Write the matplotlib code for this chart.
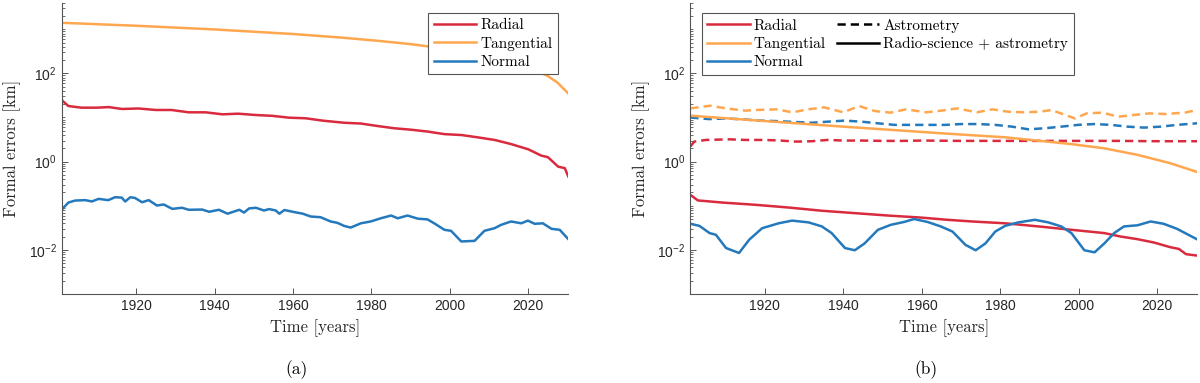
import numpy as np
import matplotlib
matplotlib.use("Agg")
import matplotlib.pyplot as plt
from matplotlib.ticker import FixedLocator, LogLocator, NullFormatter
from matplotlib.lines import Line2D

plt.rcParams['font.family'] = 'Liberation Sans'
plt.rcParams['mathtext.fontset'] = 'custom'
plt.rcParams['mathtext.rm'] = 'Liberation Sans'
plt.rcParams['mathtext.it'] = 'Liberation Sans:italic'

# colours of the three components
RED = '#D92B3D'
ORANGE = '#FFA74F'
BLUE = '#2479BD'
SERIF = 'cmr10'

# ---------------- panel (a) ----------------
yrs_a_rad = [1901, 1902.7, 1906, 1910, 1913, 1916.4, 1920.6, 1925, 1929, 1933.4, 1937.7, 1942,
             1946, 1950.4, 1954.7, 1959, 1963.2, 1967.5, 1973, 1977.3, 1981.6, 1985.8, 1990,
             1994.3, 1998.6, 2003, 2007, 2011.4, 2015.6, 2020, 2023.3, 2025, 2027.6, 2029.3, 2030.2]
val_a_rad = [24.9, 18.2, 16.7, 16.7, 17.2, 15.6, 16.0, 14.8, 14.8, 13.1, 13.1, 11.8,
             12.2, 11.4, 10.9, 9.9, 9.6, 8.5, 7.6, 7.3, 6.4, 5.7, 5.3,
             4.8, 4.2, 4.0, 3.56, 3.1, 2.5, 1.9, 1.37, 1.26, 0.77, 0.71, 0.46]

yrs_a_tan = [1901, 1920, 1940, 1960, 1973, 1981.6, 1990, 1995.2, 2000, 2005, 2010, 2015, 2020,
             2025, 2027.5, 2030.2]
val_a_tan = [1400, 1200, 990, 780, 640, 547, 460, 400, 347, 295, 245, 190, 138,
             87, 61, 35]

yrs_a_nor = [1901, 1902.7, 1904.4, 1907, 1908.7, 1910.4, 1912.9, 1914.6, 1916.3, 1917.2,
             1918.5, 1919.7, 1921.5, 1923.2, 1925.3, 1927, 1929.2, 1931.7, 1933.4, 1936.8,
             1938.6, 1941.1, 1943.3, 1946.3, 1947.5, 1948.8, 1950.5, 1952.6, 1953.9, 1955.6,
             1956.5, 1957.8, 1959.9, 1962.5, 1964.5, 1967, 1969.6, 1971.3, 1973, 1974.7,
             1977.3, 1979.8, 1982.4, 1985, 1986.7, 1989.2, 1991.8, 1994.3, 1996, 1998.6,
             2000.3, 2002.9, 2006.3, 2008.8, 2011.4, 2013.1, 2015.6, 2018.2, 2019.9, 2021.6,
             2023.7, 2025.9, 2028, 2030.2]
val_a_nor = [0.081, 0.118, 0.131, 0.134, 0.125, 0.143, 0.134, 0.156, 0.153, 0.125,
             0.156, 0.150, 0.120, 0.134, 0.101, 0.107, 0.085, 0.090, 0.081, 0.082,
             0.073, 0.081, 0.066, 0.081, 0.070, 0.087, 0.090, 0.078, 0.084, 0.078,
             0.066, 0.080, 0.073, 0.066, 0.057, 0.055, 0.044, 0.041, 0.035, 0.032,
             0.040, 0.044, 0.052, 0.060, 0.052, 0.060, 0.051, 0.049, 0.040, 0.0285,
             0.027, 0.0155, 0.016, 0.027, 0.031, 0.037, 0.044, 0.040, 0.046, 0.039,
             0.040, 0.030, 0.0285, 0.0175]

# ---------------- panel (b) ----------------
# astrometry only (dashed)
yrs_b_rad_ast = [1901, 1902, 1905, 1911, 1915, 1920, 1924, 1928, 1932, 1936, 1940, 1945, 1950,
                 1955, 1960, 1970, 1980, 1990, 2000, 2010, 2020, 2030.2]
val_b_rad_ast = [2.2, 2.84, 3.1, 3.2, 3.1, 3.1, 3.0, 2.84, 2.9, 3.1, 3.0, 3.0, 2.95,
                 2.95, 3.0, 2.95, 2.95, 2.95, 2.95, 2.95, 2.9, 2.9]

yrs_b_tan_ast = [1901, 1906, 1910, 1915, 1918, 1923, 1927, 1931, 1935, 1940, 1944, 1948, 1952,
                 1956, 1961, 1965, 1969, 1974, 1978, 1982, 1986, 1990, 1993, 1999, 2002, 2006,
                 2010, 2014, 2018, 2022, 2027, 2030.2]
val_b_tan_ast = [16.1, 18.5, 16.1, 14.3, 14.8, 15.3, 13.1, 15.3, 17.0, 13.1, 18.2, 14.0, 12.9,
                 15.3, 13.1, 14.3, 16.1, 13.1, 15.3, 13.5, 13.1, 13.5, 14.8, 9.5, 12.4, 12.9,
                 10.4, 11.4, 12.4, 12.0, 12.9, 14.8]

yrs_b_nor_ast = [1901, 1905.8, 1910, 1914.3, 1918.5, 1922.7, 1927.7, 1932, 1936.1, 1940.3,
                 1944.5, 1948.7, 1953, 1958, 1963, 1966, 1970, 1974.5, 1978.7, 1983,
                 1987.1, 1991.3, 1995.5, 1999.8, 2004, 2008.2, 2012.4, 2016.6, 2020.8, 2025,
                 2030.2]
val_b_nor_ast = [10.0, 9.2, 9.5, 9.1, 8.5, 8.3, 7.9, 7.6, 8.05, 8.5,
                 8.05, 7.4, 6.8, 6.8, 6.8, 6.8, 7.1, 7.1, 6.8, 6.2,
                 5.4, 5.7, 6.2, 6.8, 7.1, 6.8, 6.2, 5.9, 6.2, 6.8,
                 7.4]

# radio-science + astrometry (solid)
yrs_b_rad_rs = [1901, 1902.9, 1909.2, 1917.6, 1926.1, 1934.5, 1942.9, 1951.3, 1959.7, 1966.5,
                1972.8, 1981.2, 1989.7, 1998.1, 2006.5, 2010.7, 2014.9, 2019.1, 2023.3, 2025.5,
                2027.3, 2030.2]
val_b_rad_rs = [0.177, 0.132, 0.118, 0.105, 0.091, 0.077, 0.068, 0.060, 0.054, 0.048,
                0.044, 0.040, 0.034, 0.0285, 0.024, 0.020, 0.0175, 0.0147, 0.0115, 0.0105,
                0.0080, 0.0074]

yrs_b_tan_rs = [1901, 1920, 1940, 1966.5, 1981.2, 1998, 2006.5, 2015, 2023.3, 2030.2]
val_b_tan_rs = [11.0, 8.3, 6.2, 4.3, 3.56, 2.5, 2.0, 1.42, 0.92, 0.58]

yrs_b_nor_rs = [1901, 1903.3, 1905.9, 1907.5, 1910.1, 1913.4, 1916, 1919.3, 1923.5, 1926.9,
                1931.1, 1934.5, 1937, 1940.4, 1942.9, 1945.4, 1948.8, 1952.1, 1955.5, 1958,
                1961.4, 1964.8, 1967.8, 1971.1, 1973.7, 1976.2, 1978.7, 1981.2, 1984.6, 1988.8,
                1992.2, 1995.5, 1998.1, 2001.4, 2004, 2006.5, 2009, 2011.5, 2014.9, 2018.3,
                2021.6, 2025, 2030.2]
val_b_nor_rs = [0.039, 0.035, 0.024, 0.022, 0.011, 0.0085, 0.017, 0.031, 0.040, 0.046,
                0.042, 0.034, 0.024, 0.011, 0.0098, 0.014, 0.0285, 0.037, 0.043, 0.050,
                0.043, 0.034, 0.026, 0.013, 0.0098, 0.014, 0.026, 0.035, 0.042, 0.048,
                0.042, 0.034, 0.024, 0.0098, 0.0088, 0.014, 0.024, 0.034, 0.036, 0.044,
                0.039, 0.030, 0.0172]

XLIM = (1901, 2030.2)
YLIM = (1e-3, 4e3)
LW = 1.8
DASH = (3.3, 2.0)
LEG_FONT = {'family': SERIF, 'size': 11}


def style_axes(ax):
    ax.set_yscale('log')
    ax.set_xlim(*XLIM)
    ax.set_ylim(*YLIM)
    for s in ['top', 'right']:
        ax.spines[s].set_visible(False)
    for s in ['left', 'bottom']:
        ax.spines[s].set_color('#555555')
        ax.spines[s].set_linewidth(0.8)
    ax.set_xticks([1920, 1940, 1960, 1980, 2000, 2020])
    ax.yaxis.set_major_locator(FixedLocator([1e-2, 1e0, 1e2]))
    ax.yaxis.set_minor_locator(LogLocator(base=10, subs=np.arange(1, 10), numticks=30))
    ax.yaxis.set_minor_formatter(NullFormatter())
    ax.tick_params(which='both', direction='in', colors='#555555', labelcolor='#262626',
                   labelsize=10)
    ax.tick_params(which='major', length=4, width=0.7)
    ax.tick_params(which='minor', length=2, width=0.6)
    ax.set_xlabel('Time [years]', family=SERIF, fontsize=12, color='#262626', va='center')
    ax.xaxis.set_label_coords(0.5, -0.117)
    ax.set_ylabel('Formal errors [km]', family=SERIF, fontsize=12, color='#262626',
                  va='center')
    ax.yaxis.set_label_coords(-0.098, 0.5)


fig = plt.figure(figsize=(12, 3.83), dpi=100)
ax1 = fig.add_axes([0.0514, 0.2324, 0.4222, 0.7606])
ax2 = fig.add_axes([0.5753, 0.2324, 0.4225, 0.7606])

# panel (a)
ax1.plot(yrs_a_rad, val_a_rad, color=RED, lw=LW, label='Radial')
ax1.plot(yrs_a_tan, val_a_tan, color=ORANGE, lw=LW, label='Tangential')
ax1.plot(yrs_a_nor, val_a_nor, color=BLUE, lw=LW, label='Normal')
style_axes(ax1)
leg1 = ax1.legend(loc='upper right', bbox_to_anchor=(0.979, 0.964), prop=LEG_FONT,
                  fancybox=False, framealpha=1, edgecolor='#555555', handlelength=2.8,
                  handletextpad=0.25, labelspacing=0.3, borderpad=0.35, borderaxespad=0)
leg1.get_frame().set_linewidth(0.8)

# panel (b)
ax2.plot(yrs_b_tan_ast, val_b_tan_ast, color=ORANGE, lw=LW, dashes=DASH)
ax2.plot(yrs_b_nor_ast, val_b_nor_ast, color=BLUE, lw=LW, dashes=DASH)
ax2.plot(yrs_b_rad_ast, val_b_rad_ast, color=RED, lw=LW, dashes=DASH)
ax2.plot(yrs_b_tan_rs, val_b_tan_rs, color=ORANGE, lw=LW)
ax2.plot(yrs_b_rad_rs, val_b_rad_rs, color=RED, lw=LW)
ax2.plot(yrs_b_nor_rs, val_b_nor_rs, color=BLUE, lw=LW)
style_axes(ax2)
handles = [Line2D([], [], color=RED, lw=LW), Line2D([], [], color=ORANGE, lw=LW),
           Line2D([], [], color=BLUE, lw=LW), Line2D([], [], color='black', lw=LW, dashes=DASH),
           Line2D([], [], color='black', lw=LW)]
labels = ['Radial', 'Tangential', 'Normal', 'Astrometry', 'Radio-science + astrometry']
leg2 = ax2.legend(handles, labels, ncol=2, loc='upper left', bbox_to_anchor=(0.0228, 0.964),
                  prop=LEG_FONT, fancybox=False, framealpha=1,
                  edgecolor='#555555', handlelength=2.8, handletextpad=0.25, labelspacing=0.3,
                  borderpad=0.35, borderaxespad=0, columnspacing=0.7)
leg2.get_frame().set_linewidth(0.8)

fig.text(297 / 1200, 1 - 370 / 383, '(a)', family=SERIF, fontsize=12.5, ha='center', va='center')
fig.text(926 / 1200, 1 - 370 / 383, '(b)', family=SERIF, fontsize=12.5, ha='center', va='center')

fig.savefig('out.png', dpi=100)
